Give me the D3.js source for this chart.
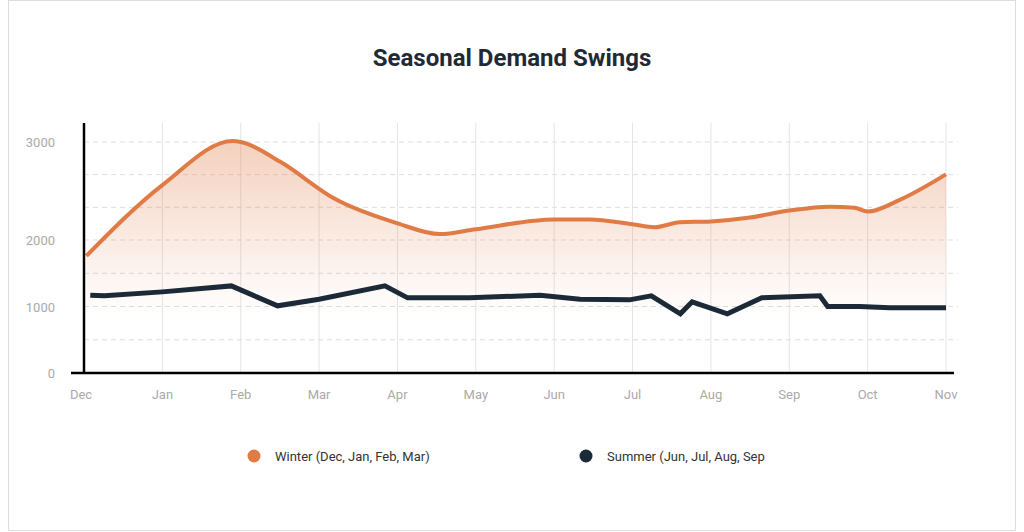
<!DOCTYPE html><html><head><meta charset="utf-8"><script src="https://cdn.jsdelivr.net/npm/d3@7"></script>
<style>body{margin:0;background:#fff;font-family:Roboto,sans-serif}</style></head><body><svg id="c" width="1024" height="532"></svg><script>
const months=["Dec","Jan","Feb","Mar","Apr","May","Jun","Jul","Aug","Sep","Oct","Nov"];
const yTicks=[0,1000,2000,3000];
const winterX=[0.03,1,1.9,2,2.5,3.2,4,4.54,5,6,6.45,7,7.28,7.6,8,8.5,9,9.52,9.83,10,10.41,11];
const winterY=[1760,2560,3010,3000,2800,2420,2170,2060,2110,2210,2210,2160,2130,2180,2190,2230,2300,2340,2330,2290,2410,2670];
const summerX=[0.08,0.26,1,1.88,2.47,3,3.84,4.13,4.92,5.82,6.33,6.96,7.24,7.61,7.76,8.21,8.65,9.39,9.49,9.9,10.28,11];
const summerY=[1170,1160,1220,1310,1010,1110,1310,1130,1130,1170,1110,1100,1160,890,1070,890,1130,1160,1000,1000,980,980];
const svg=d3.select("#c");
svg.append("rect").attr("x",8.5).attr("y",0.5).attr("width",1007).attr("height",530).attr("fill","none").attr("stroke","#ddd");
svg.append("text").attr("x",512).attr("y",66).attr("text-anchor","middle").attr("font-size",24).attr("font-weight",700).attr("fill","#1f2a36").text("Seasonal Demand Swings");
const x=d3.scaleLinear().domain([0,11]).range([84,946]);
const y=d3.scaleLinear().domain([0,2000,3000]).range([373,240,142]);
const grid=[0,500,1000,1500,2000,2333.3,2666.7,3000];
svg.append("g").selectAll("line").data(grid).join("line").attr("x1",84).attr("x2",958).attr("y1",d=>y(d)).attr("y2",d=>y(d)).attr("stroke","#ddd").attr("stroke-dasharray","5,4");
svg.append("g").selectAll("line").data(months).join("line").attr("x1",(d,i)=>x(i)).attr("x2",(d,i)=>x(i)).attr("y1",123).attr("y2",373).attr("stroke","#e4e4e4");
const defs=svg.append("defs");const g=defs.append("linearGradient").attr("id","gr").attr("x1",0).attr("x2",0).attr("y1",0).attr("y2",1);
g.append("stop").attr("offset","0%").attr("stop-color","#e07b45").attr("stop-opacity",0.35);
g.append("stop").attr("offset","75%").attr("stop-color","#e07b45").attr("stop-opacity",0.0);
const W=winterX.map((v,i)=>[v,winterY[i]]),S=summerX.map((v,i)=>[v,summerY[i]]);
svg.append("path").datum(W).attr("fill","url(#gr)").attr("d",d3.area().x(d=>x(d[0])).y0(373).y1(d=>y(d[1])).curve(d3.curveMonotoneX));
svg.append("path").datum(W).attr("fill","none").attr("stroke","#e07b45").attr("stroke-width",4).attr("d",d3.line().x(d=>x(d[0])).y(d=>y(d[1])).curve(d3.curveMonotoneX));
svg.append("path").datum(S).attr("fill","none").attr("stroke","#1b2a36").attr("stroke-width",5).attr("stroke-linejoin","miter").attr("d",d3.line().x(d=>x(d[0])).y(d=>y(d[1])));
svg.append("line").attr("x1",84).attr("x2",84).attr("y1",123).attr("y2",374).attr("stroke","#000").attr("stroke-width",2.5);
svg.append("line").attr("x1",71).attr("x2",954).attr("y1",373).attr("y2",373).attr("stroke","#000").attr("stroke-width",2.5);
svg.append("g").selectAll("text").data(yTicks).join("text").attr("x",55).attr("y",d=>y(d)+5).attr("text-anchor","end").attr("font-size",13).attr("fill","#aaa").text(d=>d);
svg.append("g").selectAll("text").data(months).join("text").attr("x",(d,i)=>x(i)-(i==0?3:0)).attr("y",399).attr("text-anchor","middle").attr("font-size",13).attr("fill","#aaa").text(d=>d);
const leg=[["Winter (Dec, Jan, Feb, Mar)","#e07b45",254],["Summer (Jun, Jul, Aug, Sep","#1b2a36",586]];
leg.forEach(l=>{svg.append("circle").attr("cx",l[2]).attr("cy",456).attr("r",6.5).attr("fill",l[1]);
svg.append("text").attr("x",l[2]+21).attr("y",461).attr("font-size",13).attr("fill","#333").text(l[0]);});
</script></body></html>
